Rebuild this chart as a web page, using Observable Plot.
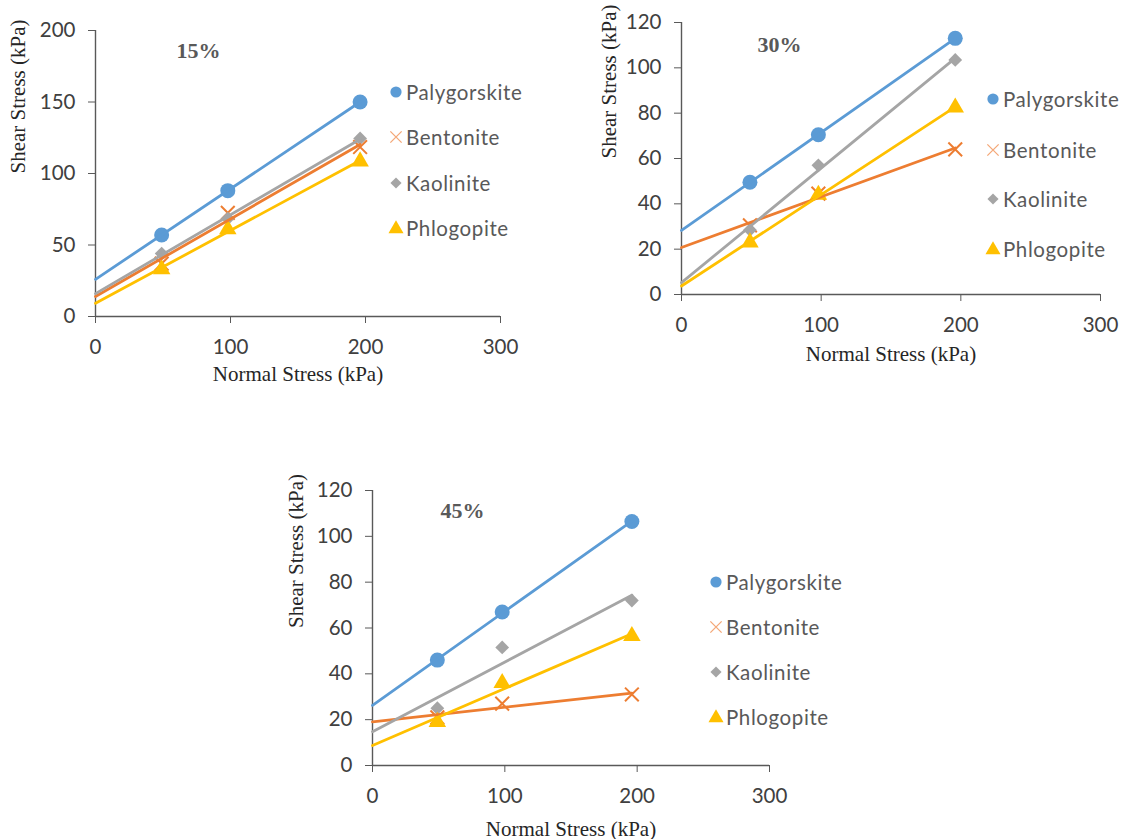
<!DOCTYPE html>
<html>
<head>
<meta charset="utf-8">
<script src="https://cdn.jsdelivr.net/npm/d3@7"></script>
<script src="https://cdn.jsdelivr.net/npm/@observablehq/plot@0.6"></script>
<style>
  body { margin: 0; background: #fff; width: 1124px; height: 839px; position: relative; overflow: hidden; }
  .panel { position: absolute; }
  .legend-item { position: absolute; white-space: nowrap; font-family: Lato, sans-serif; font-size: 20.5px; color: #595959; letter-spacing: 0.6px; line-height: 1; }
  .legend-sym { position: absolute; overflow: visible; }
</style>
</head>
<body>
<script>
// ---- data ----
const normalStress = [49, 98, 196];
const minerals = ["Palygorskite", "Bentonite", "Kaolinite", "Phlogopite"];
const colors = ["#5B9BD5", "#ED7D31", "#A5A5A5", "#FFC000"];
const symbols = ["circle", "times", "diamond2", "triangle"];
const xTicks = [0, 100, 200, 300];

// 15 %
const palygorskite15 = [57, 88, 150];
const bentonite15 = [37, 72.5, 118.5];
const kaolinite15 = [44, 68.5, 124.5];
const phlogopite15 = [33, 61, 108.5];
const yTicks15 = [0, 50, 100, 150, 200];

// 30 %
const palygorskite30 = [49.5, 70.5, 113];
const bentonite30 = [30.5, 44.5, 64];
const kaolinite30 = [28.5, 57, 103.5];
const phlogopite30 = [23, 44, 82.5];
const yTicks30 = [0, 20, 40, 60, 80, 100, 120];

// 45 %
const palygorskite45 = [46, 67, 106.5];
const bentonite45 = [21, 27, 31];
const kaolinite45 = [25, 51.5, 72];
const phlogopite45 = [19, 36, 56.5];
const yTicks45 = [0, 20, 40, 60, 80, 100, 120];

// ---- layout ----
const panels = [
  { title: "15%", series: [palygorskite15, bentonite15, kaolinite15, phlogopite15], yTicks: yTicks15,
    left: 0, top: 0, width: 520, height: 400, mL: 95, mR: 20, mT: 30, mB: 84,
    titleDx: 103, titleDy: 12, xTitleDy: 64, yTitleDx: -77,
    legendX: 396, legendY: [92, 137, 183, 228] },
  { title: "30%", series: [palygorskite30, bentonite30, kaolinite30, phlogopite30], yTicks: yTicks30,
    left: 580, top: 0, width: 544, height: 400, mL: 101, mR: 24, mT: 22, mB: 106,
    titleDx: 98, titleDy: 14, xTitleDy: 66, yTitleDx: -72,
    legendX: 993, legendY: [99, 150, 199, 249] },
  { title: "45%", series: [palygorskite45, bentonite45, kaolinite45, phlogopite45], yTicks: yTicks45,
    left: 270, top: 470, width: 560, height: 369, mL: 102, mR: 61, mT: 20, mB: 74,
    titleDx: 90, titleDy: 12, xTitleDy: 70, yTitleDx: -76,
    legendX: 716, legendY: [582, 627, 672, 717] }
];

const dotStyle = {
  circle: { r: 7.5, fill: true },
  times: { r: 6.3, fill: false, strokeWidth: 2 },
  diamond2: { r: 6.2, fill: true },
  triangle: { r: 6.5, fill: true }
};

function fit(xs, ys) {
  const mx = d3.mean(xs), my = d3.mean(ys);
  const sxy = d3.sum(xs, (x, i) => (x - mx) * (ys[i] - my));
  const sxx = d3.sum(xs, x => (x - mx) ** 2);
  const a = sxy / sxx, b = my - a * mx;
  return [0, d3.max(xs)].map(x => ({ x, y: b + a * x }));
}

const serif = "Liberation Serif, Times New Roman, serif";

for (const p of panels) {
  const yMax = d3.max(p.yTicks);
  const marks = [
    Plot.ruleY([0], { stroke: "#595959", strokeWidth: 1.4 }),
    Plot.ruleX([0], { stroke: "#595959", strokeWidth: 1.4 }),
    Plot.axisX({ ticks: xTicks, tickSize: 7, tickPadding: 16, stroke: "#595959", label: null, tickFormat: d => String(d) }),
    Plot.axisY({ ticks: p.yTicks, tickSize: 7, tickPadding: 13, stroke: "#595959", label: null, tickFormat: d => String(d) })
  ];
  p.series.forEach((ys, i) => {
    const pts = normalStress.map((x, j) => ({ x, y: ys[j] }));
    const s = dotStyle[symbols[i]];
    marks.push(Plot.dot(pts, {
      x: "x", y: "y", symbol: () => symbols[i], r: s.r,
      fill: s.fill ? colors[i] : "none",
      stroke: s.fill ? "none" : colors[i],
      strokeWidth: s.strokeWidth || 1
    }));
  });
  p.series.forEach((ys, i) => {
    marks.push(Plot.line(fit(normalStress, ys), { x: "x", y: "y", stroke: colors[i], strokeWidth: 2.8 }));
  });
  marks.push(
    Plot.text([p.title], { text: d => d, frameAnchor: "top-left", dx: p.titleDx, dy: p.titleDy,
      fontFamily: serif, fontWeight: "bold", fontSize: 22, fill: "#595959", textAnchor: "middle" }),
    Plot.text(["Normal Stress (kPa)"], { text: d => d, frameAnchor: "bottom", dy: p.xTitleDy,
      fontFamily: serif, fontSize: 21, fill: "#262626" }),
    Plot.text(["Shear Stress (kPa)"], { text: d => d, frameAnchor: "left", dx: p.yTitleDx, rotate: -90,
      fontFamily: serif, fontSize: 21, fill: "#262626" })
  );
  const chart = Plot.plot({
    width: p.width, height: p.height,
    marginLeft: p.mL, marginRight: p.mR, marginTop: p.mT, marginBottom: p.mB,
    x: { domain: [0, 300] },
    y: { domain: [0, yMax] },
    style: { fontFamily: "Lato, sans-serif", fontSize: "20.5px", color: "#404040", background: "transparent", overflow: "visible" },
    marks
  });
  chart.classList.add("panel");
  chart.style.left = p.left + "px";
  chart.style.top = p.top + "px";
  document.body.appendChild(chart);

  // legend
  const legendSize = { circle: 5.6, times: 5.2, diamond2: 5, triangle: 5.6 };
  const d3sym = { circle: d3.symbolCircle, times: d3.symbolTimes, diamond2: d3.symbolDiamond2, triangle: d3.symbolTriangle };
  minerals.forEach((m, i) => {
    const cx = p.legendX, cy = p.legendY[i];
    const r = legendSize[symbols[i]];
    const path = d3.symbol(d3sym[symbols[i]], Math.PI * r * r)();
    const svg = document.createElementNS("http://www.w3.org/2000/svg", "svg");
    svg.setAttribute("class", "legend-sym");
    svg.setAttribute("width", 20); svg.setAttribute("height", 20);
    svg.style.left = (cx - 10) + "px"; svg.style.top = (cy - 10) + "px";
    const el = document.createElementNS("http://www.w3.org/2000/svg", "path");
    el.setAttribute("d", path);
    el.setAttribute("transform", symbols[i] === "triangle" ? "translate(10,11)" : "translate(10,10)");
    if (symbols[i] === "times") { el.setAttribute("fill", "none"); el.setAttribute("stroke", "#F4A878"); el.setAttribute("stroke-width", 1.3); }
    else el.setAttribute("fill", colors[i]);
    svg.appendChild(el);
    document.body.appendChild(svg);
    const t = document.createElement("div");
    t.className = "legend-item";
    t.textContent = m;
    t.style.left = (cx + 10) + "px";
    t.style.top = (cy - 10) + "px";
    document.body.appendChild(t);
  });
}
</script>
</body>
</html>
